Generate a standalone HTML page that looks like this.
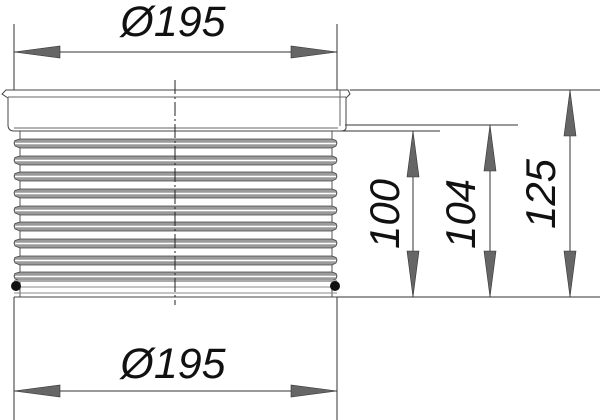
<!DOCTYPE html>
<html><head><meta charset="utf-8"><style>html,body{margin:0;padding:0;background:#fff}svg{display:block}</style></head>
<body>
<svg width="600" height="420" viewBox="0 0 600 420" xmlns="http://www.w3.org/2000/svg">
<defs>
<g id="rib">
  <path d="M20,0 L15,1.5 L14,4 L15,7 L20,9 L332,9 L336,7 L337,4 L336,1.5 L332,0 Z" fill="#9a9a9a" stroke="#444" stroke-width="0.8"/>
  <line x1="15" y1="4.5" x2="336" y2="4.5" stroke="#fff" stroke-width="1.4"/>
</g>
</defs>
<g font-family="Liberation Sans, sans-serif" font-style="italic" fill="#111">
<text x="173" y="36" font-size="43" text-anchor="middle">Ø195</text>
<text x="173" y="378" font-size="43" text-anchor="middle">Ø195</text>
<text transform="translate(399,214) rotate(-90)" font-size="42" text-anchor="middle">100</text>
<text transform="translate(475,214) rotate(-90)" font-size="42" text-anchor="middle">104</text>
<text transform="translate(555,194) rotate(-90)" font-size="42" text-anchor="middle">125</text>
</g>
<g stroke="#333" stroke-width="1" fill="none">
  <line x1="14" y1="24" x2="14" y2="90"/>
  <line x1="337" y1="24" x2="337" y2="90"/>
  <line x1="14" y1="52" x2="337" y2="52"/>
  <line x1="14" y1="297" x2="14" y2="420"/>
  <line x1="337" y1="297" x2="337" y2="420"/>
  <line x1="14" y1="391" x2="337" y2="391"/>
  <line x1="350" y1="90" x2="600" y2="90"/>
  <line x1="345" y1="125" x2="518" y2="125"/>
  <line x1="340" y1="131" x2="440" y2="131"/>
  <line x1="337" y1="297" x2="600" y2="297"/>
  <line x1="413" y1="131" x2="413" y2="297"/>
  <line x1="490" y1="125" x2="490" y2="297"/>
  <line x1="570" y1="90" x2="570" y2="297"/>
  <path d="M6,90 L348,90 L350,94 L346,98 L346,128 Q346,131 340,131 L14,131 Q8,131 8,125 L8,98 L2,94 Z" stroke="#444"/>
  <line x1="8" y1="97" x2="346" y2="97" stroke="#666"/>
  <line x1="14" y1="128" x2="338" y2="128" stroke="#666"/>
  <line x1="340" y1="90" x2="340" y2="126" stroke="#666"/>
  <line x1="20" y1="131" x2="20" y2="297" stroke="#555"/>
  <line x1="332" y1="131" x2="332" y2="297" stroke="#555"/>
  <line x1="14" y1="297" x2="337" y2="297" stroke="#444"/>
  <line x1="14" y1="293" x2="337" y2="293" stroke="#888"/>
  <line x1="14" y1="287" x2="337" y2="287" stroke="#888"/>
</g>
<use href="#rib" y="139"/>
<use href="#rib" y="156"/>
<use href="#rib" y="172"/>
<use href="#rib" y="189"/>
<use href="#rib" y="206"/>
<use href="#rib" y="222"/>
<use href="#rib" y="239"/>
<use href="#rib" y="256"/>
<use href="#rib" y="272"/>
<rect x="14" y="280" width="323" height="2" fill="#aaa"/>
<circle cx="16" cy="286" r="5" fill="#111"/>
<circle cx="335" cy="286" r="5" fill="#111"/>
<line x1="175" y1="80" x2="175" y2="305" stroke="#222" stroke-width="1" stroke-dasharray="14,3,2,3"/>
<g fill="#666" stroke="#333" stroke-width="0.6">
  <path d="M14,52 L60,46 L60,58 Z"/><path d="M337,52 L291,46 L291,58 Z"/>
  <path d="M14,391 L60,385 L60,397 Z"/><path d="M337,391 L291,385 L291,397 Z"/>
  <path d="M413,131 L407,177 L419,177 Z"/><path d="M413,297 L407,251 L419,251 Z"/>
  <path d="M490,125 L484,171 L496,171 Z"/><path d="M490,297 L484,251 L496,251 Z"/>
  <path d="M570,90 L564,136 L576,136 Z"/><path d="M570,297 L564,251 L576,251 Z"/>
</g>
</svg>
</body></html>
